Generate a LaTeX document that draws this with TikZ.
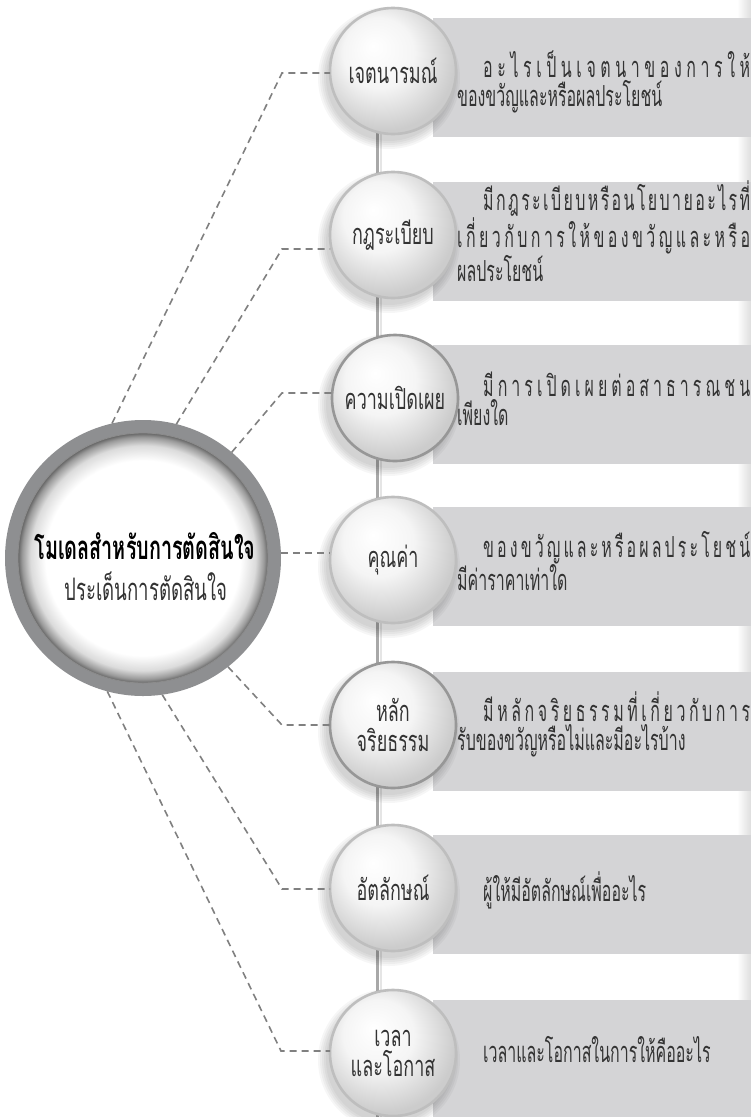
\documentclass[tikz,border=0pt]{standalone}
\usepackage{fontspec}
\newfontfamily\thaibar[Script=Thai,FakeStretch=0.55]{Loma}
\newfontfamily\thailab[Script=Thai,FakeStretch=0.62]{Loma}
\newfontfamily\thaimain[Script=Thai,FakeStretch=0.6]{Loma}
\definecolor{barc}{HTML}{D4D4D6}
\definecolor{dashc}{HTML}{808080}
\definecolor{ringc}{HTML}{8E8F91}
\definecolor{spinec}{HTML}{A8A8A8}
\definecolor{txtc}{HTML}{333333}
\definecolor{rimlight}{HTML}{BEBEBE}
\definecolor{rimdark}{HTML}{979797}
\pgfdeclareradialshading{mainshade}{\pgfpoint{0bp}{0bp}}{color(0bp)=(white); color(19.5bp)=(white); color(22.5bp)=(black!14); color(24.2bp)=(black!40); color(25bp)=(black!60); color(50bp)=(black!60)}
\pgfdeclareradialshading{ballshade}{\pgfpoint{-8bp}{10bp}}{color(0bp)=(white); color(14bp)=(black!4); color(28bp)=(black!20); color(50bp)=(black!24)}
\newcommand\g{\hskip 0pt plus 1fil minus 1pt\relax}
\newcommand\jl[1]{\hbox to 293pt{#1}}
\newcommand\ji[1]{\hbox to 293pt{\hskip 26pt #1}}
\tikzset{
  barbox/.style={fill=barc},
  dashline/.style={draw=dashc, line width=1.6pt, dash pattern=on 7pt off 5pt},
  minicirc/.style={circle, minimum size=126pt, inner sep=0pt, outer sep=0pt, line width=2.6pt, draw=rimlight, shading=ballshade, align=center, text=txtc, font=\thailab\fontsize{29}{30}\selectfont},
  darkrim/.style={draw=rimdark},
  bartext/.style={anchor=west, inner sep=0pt, align=left, text=txtc, font=\thaibar\fontsize{29}{29}\selectfont},
  shadowc/.style={fill=black, opacity=0.035},
}
\begin{document}
\begin{tikzpicture}[x=1pt,y=-1pt]
\useasboundingbox (0,0) rectangle (751,1117);
\fill[white] (0,0) rectangle (751,1117);
% right edge strip
\shade[left color=white, right color=black!13] (737,0) rectangle (751,1117);
% bars
\foreach \t in {18,182,345,507,672,835,1000}{
  \fill[barbox] (433,\t) rectangle (751,\t+119);
}
% spine
\draw[spinec, line width=3.5pt] (377.5,70) -- (377.5,1117);
\draw[black!10, line width=2pt] (380.5,70) -- (380.5,1117);

% main circle node
\node[circle, minimum size=276pt, inner sep=0pt, outer sep=0pt] (mc) at (143,558) {};

% shadows for small circles
\foreach \y in {71,235,398,560,725,888,1053}{
  \foreach \r in {63,65,67,69,71}{
    \fill[shadowc] (389,\y+7) circle (\r);
  }
}

% small circles
\node[minicirc] (c1) at (393,71) {เจตนารมณ์};
\node[minicirc] (c2) at (393,235) {กฎระเบียบ};
\node[minicirc, darkrim] (c3) at (395,398) {ความเปิดเผย};
\node[minicirc] (c4) at (393,560) {คุณค่า};
\node[minicirc, darkrim] (c5) at (393,725) {หลัก\\จริยธรรม};
\node[minicirc] (c6) at (393,888) {อัตลักษณ์};
\node[minicirc] (c7) at (393,1053) {เวลา\\และโอกาส};

% dashed connectors
\coordinate (b1) at (282,73);
\coordinate (b2) at (282,249);
\coordinate (b3) at (282,393);
\coordinate (b5) at (282,725);
\coordinate (b6) at (282,889);
\coordinate (b7) at (281,1051);
\draw[dashline] (mc.103) -- (b1) -- (b1 -| c1.west);
\draw[dashline] (mc.76) -- (b2) -- (b2 -| c2.west);
\draw[dashline] (mc.50) -- (b3) -- (b3 -| c3.west);
\draw[dashline] (mc.2) -- (mc.2 -| c4.west);
\draw[dashline] (mc.-52) -- (b5) -- (b5 -| c5.west);
\draw[dashline] (mc.-82) -- (b6) -- (b6 -| c6.west);
\draw[dashline] (mc.-105) -- (b7) -- (b7 -| c7.west);

% main circle drawing
\fill[ringc] (mc.center) circle (138);
\shade[shading=mainshade] (mc.center) circle (125);
\draw[black!45, line width=0.8pt] (mc.center) circle (125);
\node[text=black, font=\thaimain\bfseries\fontsize{33}{30}\selectfont, inner sep=0pt] (mt) at (145,546) {โมเดลสำหรับการตัดสินใจ};
\node[text=txtc, font=\thaimain\fontsize{31}{28}\selectfont, inner sep=0pt] (ms) at (146,586) {ประเด็นการตัดสินใจ};

% bar texts
\node[bartext] (t1) at (457,82) {\ji{อ\g ะ\g ไ\g ร\g เ\g ป็\g น\g เ\g จ\g ต\g น\g า\g ข\g อ\g ง\g ก\g า\g ร\g ใ\g ห้}\\ของขวัญและหรือผลประโยชน์};
\node[bartext] (t2) at (457,231) {\ji{มี\g ก\g ฎ\g ร\g ะ\g เ\g บี\g ย\g บ\g ห\g รื\g อ\g น\g โ\g ย\g บ\g า\g ย\g อ\g ะ\g ไ\g ร\g ที่}\\\jl{เ\g กี่\g ย\g ว\g กั\g บ\g ก\g า\g ร\g ใ\g ห้\g ข\g อ\g ง\g ข\g วั\g ญ\g แ\g ล\g ะ\g ห\g รื\g อ}\\ผลประโยชน์};
\node[bartext] (t3) at (457,399) {\ji{มี\g ก\g า\g ร\g เ\g ปิ\g ด\g เ\g ผ\g ย\g ต่\g อ\g ส\g า\g ธ\g า\g ร\g ณ\g ช\g น}\\เพียงใด};
\node[bartext] (t4) at (457,561) {\ji{ข\g อ\g ง\g ข\g วั\g ญ\g แ\g ล\g ะ\g ห\g รื\g อ\g ผ\g ล\g ป\g ร\g ะ\g โ\g ย\g ช\g น์}\\มีค่าราคาเท่าใด};
\node[bartext] (t5) at (457,724) {\ji{มี\g ห\g ลั\g ก\g จ\g ริ\g ย\g ธ\g ร\g ร\g ม\g ที่\g เ\g กี่\g ย\g ว\g กั\g บ\g ก\g า\g ร}\\รับของขวัญหรือไม่และมีอะไรบ้าง};
\node[bartext] (t6) at (483,890) {ผู้ให้มีอัตลักษณ์เพื่ออะไร};
\node[bartext] (t7) at (483,1050) {เวลาและโอกาสในการให้คืออะไร};
\end{tikzpicture}
\end{document}
